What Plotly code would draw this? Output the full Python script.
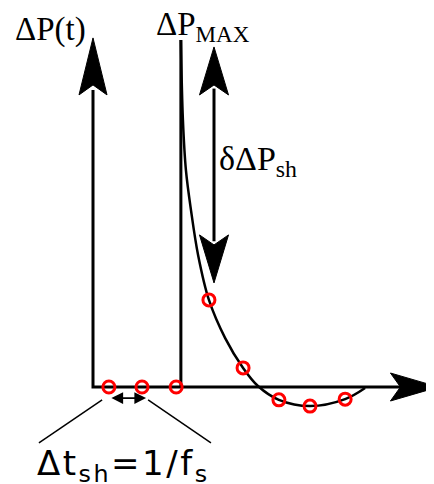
"""
Sample-and-hold schematic: pressure pulse dP(t) sampled at 1/fs
"""

import plotly.graph_objects as go

# ---- data (t in sample periods, dP normalised to dP_MAX) ----
pulse_t = 2.6

curve_t = [2.60, 2.66, 2.75, 2.90, 3.11, 3.43, 3.91, 4.44, 4.88, 5.50, 6.42, 7.46, 8.05]
curve_dp = [1.0, 0.77, 0.624, 0.509, 0.380, 0.251, 0.141, 0.055, 0.003, -0.037, -0.055,
            -0.035, -0.003]

sample_t = [0.47, 1.45, 2.46, 3.43, 4.44, 5.50, 6.42, 7.46]
sample_dp = [0.0, 0.0, 0.0, 0.251, 0.055, -0.037, -0.055, -0.035]

# ---- figure geometry ----
# the page body has an 8px margin, so the figure covers the window from (8, 8)
W, H = 426, 476
X_RANGE = [-2.515, 10.089]
Y_RANGE = [-0.2795, 1.0922]

Y_TIP = 1.006      # top of dP axis arrow
X_TIP = 10.22      # end of t axis arrow (just past the right edge)
D_X = 3.58         # x of the delta-dP double arrow
D_TOP, D_BOT = 0.98, 0.30
SH_Y = -0.032      # y of the small dt arrow
SH_T0, SH_T1 = 0.50, 1.57

serif = "Liberation Serif"

fig = go.Figure()

# axes
fig.add_trace(go.Scatter(x=[0, 0, X_TIP - 1.0], y=[Y_TIP - 0.15, 0, 0], mode="lines",
                         line=dict(color="black", width=3), hoverinfo="skip"))
# pulse edge
fig.add_trace(go.Scatter(x=[pulse_t, pulse_t], y=[0, 1.0], mode="lines",
                         line=dict(color="black", width=3), hoverinfo="skip"))
# decay curve
fig.add_trace(go.Scatter(x=curve_t, y=curve_dp, mode="lines",
                         line=dict(color="black", width=2.5, shape="spline", smoothing=1),
                         hoverinfo="skip"))
# delta dP shaft
fig.add_trace(go.Scatter(x=[D_X, D_X], y=[D_TOP - 0.12, D_BOT + 0.12], mode="lines",
                         line=dict(color="black", width=3), hoverinfo="skip"))
# samples
fig.add_trace(go.Scatter(x=sample_t, y=sample_dp, mode="markers",
                         marker=dict(symbol="circle-open", size=12, color="red",
                                     line=dict(width=3, color="red")),
                         hoverinfo="skip"))
# axis name "t", mostly cut off by the right edge as in the original
fig.add_trace(go.Scatter(x=[10.03], y=[-0.066], mode="text", text=["t"],
                         textposition="middle center", cliponaxis=False,
                         textfont=dict(family=serif, size=33, color="black"),
                         hoverinfo="skip"))


def head(x, y, direction, length=57, half=14, notch=10):
    """filled notched arrowhead, sized in pixels, tip at data (x, y)"""
    pts = [(0, 0), (half, -length), (0, -(length - notch)), (-half, -length)]
    if direction == "down":
        pts = [(a, -b) for a, b in pts]
    elif direction == "right":
        pts = [(b, a) for a, b in pts]
    path = "M" + " L".join(f"{a},{b}" for a, b in pts) + " Z"
    return dict(type="path", xref="x", yref="y", xsizemode="pixel", ysizemode="pixel",
                xanchor=x, yanchor=y, path=path, fillcolor="black",
                line=dict(color="black", width=1))


shapes = [
    head(0, Y_TIP, "up"),
    head(X_TIP, 0, "right", length=48, half=14, notch=10),
    head(D_X, D_TOP, "up", length=48, half=14.5, notch=10),
    head(D_X, D_BOT, "down", length=48, half=14.5, notch=10),
    dict(type="line", xref="x", yref="y", x0=0.27, y0=-0.037, x1=-1.60, y1=-0.161,
         line=dict(color="black", width=1.5)),
    dict(type="line", xref="x", yref="y", x0=1.63, y0=-0.037, x1=3.49, y1=-0.161,
         line=dict(color="black", width=1.5)),
]

annotations = [
    dict(x=SH_T1, y=SH_Y, ax=SH_T0, ay=SH_Y, axref="x", ayref="y", text="",
         showarrow=True, arrowside="end+start", arrowhead=2, arrowsize=1.3,
         arrowwidth=1.8, arrowcolor="black", standoff=0, startstandoff=0),
    dict(x=-2.37, y=1.03, text="ΔP(t)", font=dict(family=serif, size=33, color="black")),
    dict(x=1.80, y=1.04, text="ΔP<sub>MAX</sub>", font=dict(family=serif, size=33, color="black")),
    dict(x=3.68, y=0.65, text="δΔP<sub>sh</sub>", font=dict(family=serif, size=34, color="black")),
    dict(x=-1.72, y=-0.225,
         text='<span style="letter-spacing:2.5px">Δt<sub>sh</sub>=1/f<sub>s</sub></span>',
         font=dict(family="DejaVu Sans", size=34, color="black")),
]
for a in annotations[1:]:
    a.update(xref="x", yref="y", xanchor="left", yanchor="middle", showarrow=False)
annotations[0].update(xref="x", yref="y")

fig.update_layout(
    width=W, height=H,
    margin=dict(l=0, r=0, t=0, b=0),
    paper_bgcolor="white", plot_bgcolor="white",
    showlegend=False,
    shapes=shapes,
    annotations=annotations,
    xaxis=dict(range=X_RANGE, visible=False, fixedrange=True),
    yaxis=dict(range=Y_RANGE, visible=False, fixedrange=True),
)

fig.write_html("out.html")
